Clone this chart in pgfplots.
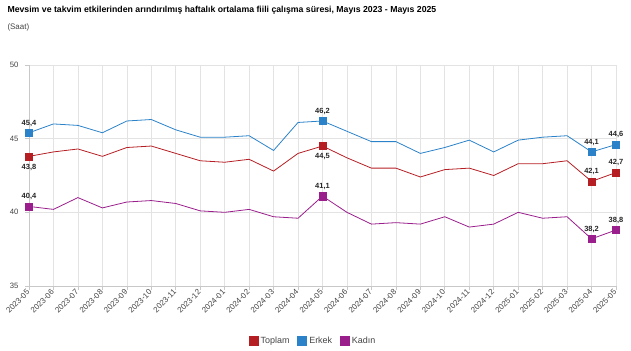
\documentclass[border=0pt]{standalone}
\usepackage{fontspec}
\setmainfont{Liberation Sans}
\usepackage{pgfplots}
\usepackage{pgfplotstable}
\pgfplotsset{compat=1.18}
\definecolor{ctop}{HTML}{B51F24}
\definecolor{cerk}{HTML}{2B82C8}
\definecolor{ckad}{HTML}{9A1E8C}
\definecolor{gridc}{HTML}{E3E3E3}
\definecolor{axc}{HTML}{C8C8C8}
\definecolor{txtc}{HTML}{444444}
\pgfplotstableread{
x toplam erkek kadin
0  43.8 45.4 40.4
1  44.1 46.0 40.2
2  44.3 45.9 41.0
3  43.8 45.4 40.3
4  44.4 46.2 40.7
5  44.5 46.3 40.8
6  44.0 45.6 40.6
7  43.5 45.1 40.1
8  43.4 45.1 40.0
9  43.6 45.2 40.2
10 42.8 44.2 39.7
11 44.0 46.1 39.6
12 44.5 46.2 41.1
13 43.7 45.5 40.0
14 43.0 44.8 39.2
15 43.0 44.8 39.3
16 42.4 44.0 39.2
17 42.9 44.4 39.7
18 43.0 44.9 39.0
19 42.5 44.1 39.2
20 43.3 44.9 40.0
21 43.3 45.1 39.6
22 43.5 45.2 39.7
23 42.1 44.1 38.2
24 42.7 44.6 38.8
}\data
\begin{document}
\begin{tikzpicture}
\path[use as bounding box] (0,0) rectangle (631bp,351bp);
\node[anchor=west, font=\bfseries\fontsize{8.75}{10}\selectfont, text=black] at (4bp,341bp) {Mevsim ve takvim etkilerinden arındırılmış haftalık ortalama fiili çalışma süresi, Mayıs 2023 - Mayıs 2025};
\node[anchor=west, font=\fontsize{8}{9}\selectfont, text=txtc] at (4bp,324bp) {(Saat)};
\begin{axis}[
  at={(29bp,65bp)}, anchor=origin,
  scale only axis, width=587bp, height=221bp,
  xmin=0, xmax=24, ymin=35, ymax=50,
  axis lines*=left,
  axis line style={axc, line width=0.6bp},
  xtick={0,...,24},
  xticklabels={2023-05,2023-06,2023-07,2023-08,2023-09,2023-10,2023-11,2023-12,2024-01,2024-02,2024-03,2024-04,2024-05,2024-06,2024-07,2024-08,2024-09,2024-10,2024-11,2024-12,2025-01,2025-02,2025-03,2025-04,2025-05},
  ytick={35,40,45,50},
  tick align=outside, major tick length=4bp,
  tick style={axc, line width=0.6bp},
  grid=major, grid style={gridc, line width=0.6bp},
  /pgf/number format/assume math mode=true,
  xticklabel style={rotate=45, anchor=east, font=\fontsize{8}{9}\selectfont, text=txtc, inner sep=1bp},
  yticklabel style={font=\fontsize{7.75}{9}\selectfont, text=txtc, xshift=-3bp},
  legend style={at={(0.484,-0.249)}, anchor=center, draw=none, fill=none,
    legend columns=3, font=\fontsize{9}{10}\selectfont, text=txtc,
    /tikz/every even column/.append style={column sep=6bp}},
  legend image code/.code={\fill[#1] (0bp,-4.5bp) rectangle (9bp,4.5bp);},
  clip=false,
  nodes near coords style={font=\bfseries\fontsize{7.5}{8}\selectfont, text=black!85,
    /pgf/number format/use comma, /pgf/number format/fixed, /pgf/number format/fixed zerofill, /pgf/number format/precision=1},
]
\addplot[ctop, line width=0.8bp] table[x=x, y=toplam] {\data};
\addlegendentry{Toplam}
\addplot[cerk, line width=0.8bp] table[x=x, y=erkek] {\data};
\addlegendentry{Erkek}
\addplot[ckad, line width=0.8bp] table[x=x, y=kadin] {\data};
\addlegendentry{Kadın}
\addplot[forget plot, only marks, mark=square*, mark size=3.6bp, ctop,
  nodes near coords, point meta=y, every node near coord/.append style={anchor=north, yshift=-4bp}]
  coordinates {(0,43.8) (12,44.5)};
\addplot[forget plot, only marks, mark=square*, mark size=3.6bp, ctop,
  nodes near coords, point meta=y, every node near coord/.append style={anchor=south, yshift=3bp}]
  coordinates {(23,42.1) (24,42.7)};
\addplot[forget plot, only marks, mark=square*, mark size=3.6bp, cerk,
  nodes near coords, point meta=y, every node near coord/.append style={anchor=south, yshift=3bp}]
  coordinates {(0,45.4) (12,46.2) (23,44.1) (24,44.6)};
\addplot[forget plot, only marks, mark=square*, mark size=3.6bp, ckad,
  nodes near coords, point meta=y, every node near coord/.append style={anchor=south, yshift=3bp}]
  coordinates {(0,40.4) (12,41.1) (23,38.2) (24,38.8)};
\end{axis}
\end{tikzpicture}
\end{document}
